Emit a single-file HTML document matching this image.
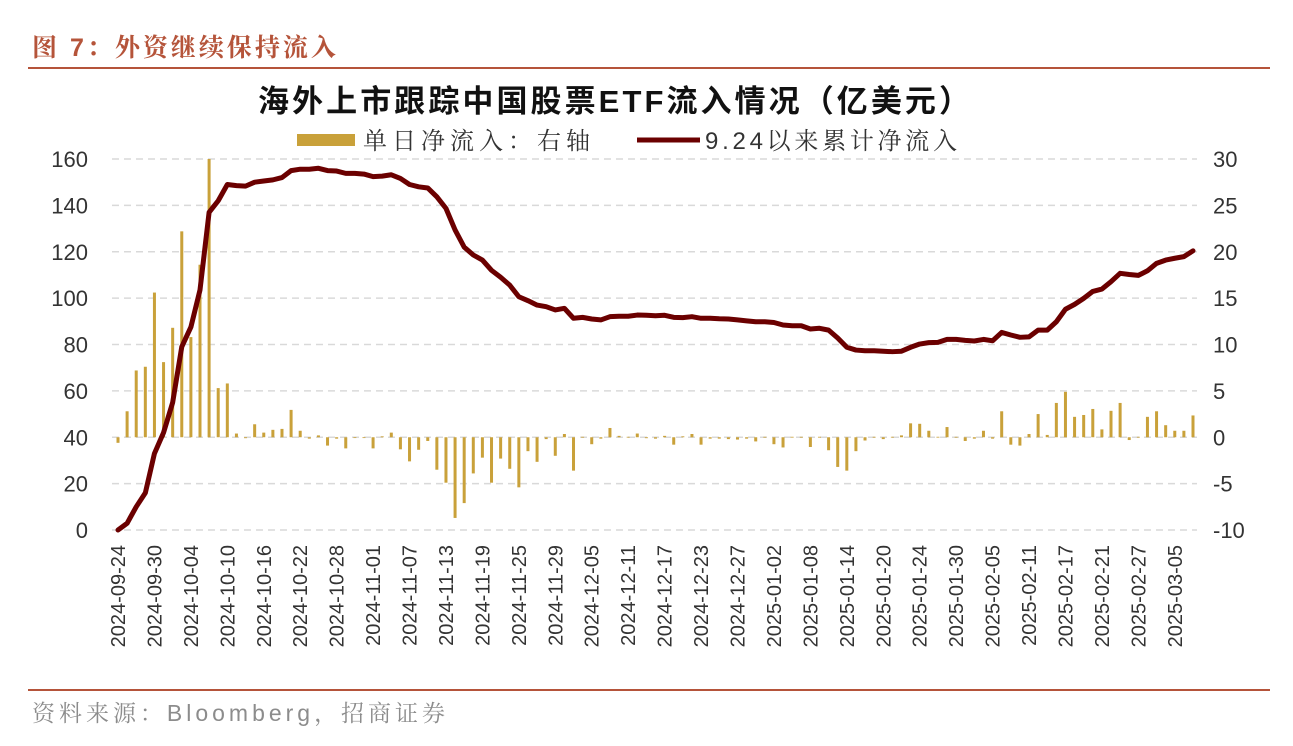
<!DOCTYPE html>
<html><head><meta charset="utf-8"><style>
body{margin:0;background:#fff;width:1293px;height:741px;overflow:hidden;font-family:"Liberation Sans","Noto Sans CJK SC",sans-serif;}
</style></head><body>
<svg width="1293" height="741" xmlns="http://www.w3.org/2000/svg">
<text x="32" y="56" font-size="25" font-weight="bold" fill="#b5543a" letter-spacing="3" font-family="Liberation Sans,Noto Serif CJK SC,serif">图 7：外资继续保持流入</text>
<line x1="28" y1="68" x2="1270" y2="68" stroke="#b5543a" stroke-width="2"/>
<text x="614" y="112" font-size="31" font-weight="bold" fill="#111" text-anchor="middle" textLength="712" font-family="Liberation Sans,Noto Sans CJK SC,sans-serif">海外上市跟踪中国股票ETF流入情况（亿美元）</text>
<g>
<rect x="297" y="134" width="58" height="12" fill="#c9a13a"/>
<text x="363" y="149" font-size="24" fill="#333" textLength="227" font-family="Liberation Sans,Noto Serif CJK SC,serif">单日净流入：右轴</text>
<line x1="637" y1="140" x2="700" y2="140" stroke="#6b0000" stroke-width="5"/>
<text x="705" y="149" font-size="24" fill="#333" textLength="252" font-family="Liberation Sans,Noto Serif CJK SC,serif">9.24以来累计净流入</text>
</g>
<g id="grid"></g><g id="bars"></g><g id="line"></g><g id="axes"></g>
<line x1="28" y1="690" x2="1270" y2="690" stroke="#b5543a" stroke-width="2"/>
<text x="32" y="721" font-size="23" fill="#8c8c8c" textLength="413" font-family="Liberation Sans,Noto Serif CJK SC,serif">资料来源：Bloomberg，招商证券</text>
</svg>
<script>
const leftTicks=[0,20,40,60,80,100,120,140,160];
const rightTicks=[-10,-5,0,5,10,15,20,25,30];
const dateLabels=["2024-09-24","2024-09-30","2024-10-04","2024-10-10","2024-10-16","2024-10-22","2024-10-28","2024-11-01","2024-11-07","2024-11-13","2024-11-19","2024-11-25","2024-11-29","2024-12-05","2024-12-11","2024-12-17","2024-12-23","2024-12-27","2025-01-02","2025-01-08","2025-01-14","2025-01-20","2025-01-24","2025-01-30","2025-02-05","2025-02-11","2025-02-17","2025-02-21","2025-02-27","2025-03-05"];
const dailyFlow=[-0.6,2.8,7.2,7.6,15.6,8.1,11.8,22.2,10.8,18.6,30,5.3,5.8,0.4,-0.1,1.4,0.5,0.8,0.9,2.95,0.7,-0.15,0.2,-0.9,-0.15,-1.2,-0.05,-0.05,-1.2,0.1,0.5,-1.3,-2.6,-1.35,-0.4,-3.5,-4.9,-8.7,-7.1,-3.9,-2.2,-4.9,-2.3,-3.4,-5.4,-1.5,-2.65,-0.2,
-2.0,0.35,-3.6,0.05,-0.75,-0.15,1.0,0.15,0.05,0.4,-0.1,-0.15,0.15,-0.8,0.1,0.35,-0.8,-0.15,-0.15,-0.2,-0.25,-0.15,-0.45,0.05,-0.75,-1.1,0.05,0.05,-1.05,0.05,-1.4,-3.2,-3.6,-1.5,-0.35,0.05,-0.2,0.05,0.2,1.5,1.45,0.7,0.05,1.1,0.05,-0.4,-0.15,0.7,-0.15,2.8,-0.8,-0.9,0.35,2.5,0.25,3.7,4.9,2.2,2.4,3.05,0.85,2.85,3.7,-0.3,0.05,2.2,2.8,1.3,0.7,0.7,2.35];
const cumFlow=[0,2.9,10,16,33,42,55,79,87.5,103.5,137,142,149,148.5,148.3,150,150.5,151,152,155,155.6,155.6,156,155,154.8,153.8,153.8,153.5,152.4,152.6,153.2,151.6,149,148,147.5,143.7,138.7,129.4,122,118.6,116.4,112,109,105.6,100.6,98.9,97,96.3,
94.9,95.6,91.3,91.7,91,90.6,92,92.2,92.2,92.7,92.6,92.4,92.6,91.7,91.6,92,91.3,91.3,91.1,91,90.6,90.2,89.8,89.8,89.5,88.4,88.1,88.1,86.7,87,86.2,82.8,78.8,77.6,77.3,77.3,77.1,76.9,77.1,78.8,80.2,80.8,80.9,82.2,82.2,81.8,81.5,82.2,81.6,85.2,84.1,83.1,83.3,86.2,86.2,89.8,95.2,97.3,99.9,102.9,103.9,107.1,110.7,110.2,109.8,111.8,115,116.4,117.2,117.9,120.4];
const NS="http://www.w3.org/2000/svg";
const X0=118,X1=1193,YB=530,YT=159,N=dailyFlow.length;
const xPos=i=>X0+i*(X1-X0)/(N-1);
const yL=v=>YB-(v-0)/(160-0)*(YB-YT);
const yR=v=>YB-(v+10)/(40)*(YB-YT);
function mk(tag,attrs,parent){const e=document.createElementNS(NS,tag);for(const k in attrs)e.setAttribute(k,attrs[k]);parent.appendChild(e);return e;}
const grid=document.getElementById('grid'),bars=document.getElementById('bars'),line=document.getElementById('line'),axes=document.getElementById('axes');
const F="Liberation Sans,Noto Sans CJK SC,sans-serif";
leftTicks.forEach(t=>{
 const g=mk('line',{x1:112,x2:1197,y1:yL(t),y2:yL(t),stroke:'#d9d9d9','stroke-width':1.5,'stroke-dasharray':'7,5'},grid);
 
 
 const tx=mk('text',{x:88,y:yL(t)+8,'font-size':22,fill:'#333','text-anchor':'end','font-family':F},axes);
 tx.textContent=t;
 
 
});
rightTicks.forEach(t=>{
 const tx=mk('text',{x:1213,y:yR(t)+8,'font-size':22,fill:'#333','font-family':F},axes);
 tx.textContent=t;
 
 
});
dailyFlow.forEach((v,i)=>{
 const y0=yR(0),y1=yR(v);
 const r=mk('rect',{x:xPos(i)-1.5,y:Math.min(y0,y1),width:3,height:Math.max(0.8,Math.abs(y1-y0)),fill:'#c9a13a'},bars);
 
 
});
const p=mk('polyline',{points:cumFlow.map((v,i)=>xPos(i)+','+yL(v)).join(' '),fill:'none',stroke:'#6b0000','stroke-width':5,'stroke-linejoin':'round','stroke-linecap':'round'},line);


dateLabels.forEach((d,k)=>{
 const x=xPos(k*4)+7;
 const tx=mk('text',{x:x,y:545,'font-size':20,fill:'#333','text-anchor':'end','font-family':F,transform:`rotate(-90 ${x} 545)`},axes);
 tx.textContent=d;
 
 
});
</script>
</body></html>
